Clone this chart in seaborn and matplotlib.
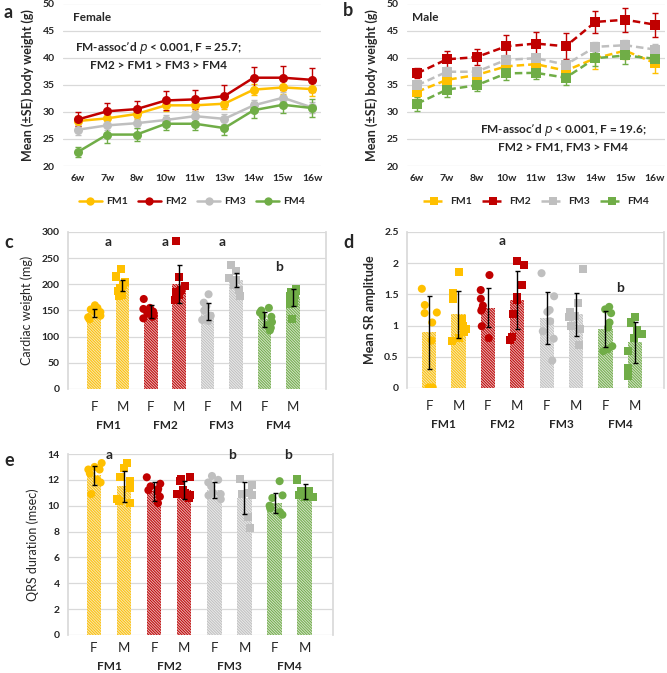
import numpy as np
import pandas as pd
import matplotlib
matplotlib.use("Agg")
import matplotlib.pyplot as plt
from matplotlib.lines import Line2D
import seaborn as sns

sns.set_theme(style="white")
plt.rcParams["font.family"] = ["Lato", "DejaVu Sans"]
plt.rcParams["hatch.linewidth"] = 0.7
np.random.seed(3)

# ---------------- data ----------------
weeks = ["6w", "7w", "8w", "10w", "11w", "13w", "14w", "15w", "16w"]
groups = ["FM1", "FM2", "FM3", "FM4"]

female_mean = {
    "FM1": [28.3, 28.8, 29.6, 31.2, 31.2, 31.5, 34.1, 34.5, 34.2],
    "FM2": [28.6, 30.1, 30.5, 32.1, 32.3, 32.9, 36.3, 36.3, 35.9],
    "FM3": [26.7, 27.5, 27.9, 28.5, 29.2, 28.7, 31.2, 32.6, 30.8],
    "FM4": [22.6, 25.8, 25.8, 27.8, 27.8, 27.0, 30.3, 31.3, 30.7],
}
female_se = {
    "FM1": [1.0, 1.0, 1.0, 1.0, 1.0, 1.0, 1.0, 1.2, 1.2],
    "FM2": [1.3, 1.5, 1.5, 1.7, 1.8, 2.0, 2.0, 2.2, 2.2],
    "FM3": [0.9, 0.9, 0.9, 0.9, 0.9, 0.9, 0.9, 1.0, 1.0],
    "FM4": [0.9, 1.6, 1.2, 1.2, 1.2, 1.3, 1.5, 1.6, 1.6],
}
male_mean = {
    "FM1": [33.7, 35.9, 36.8, 38.4, 38.8, 37.6, 39.9, 41.3, 39.0],
    "FM2": [37.1, 39.7, 40.1, 42.1, 42.6, 42.1, 46.6, 47.0, 46.1],
    "FM3": [34.9, 37.4, 37.4, 39.6, 39.9, 38.7, 42.0, 42.3, 41.5],
    "FM4": [31.5, 34.1, 34.9, 37.1, 37.2, 36.3, 39.9, 40.4, 39.8],
}
male_se = {
    "FM1": [1.0, 1.0, 1.0, 1.0, 1.0, 1.0, 2.0, 1.5, 1.8],
    "FM2": [0.9, 1.6, 1.5, 2.0, 2.1, 2.4, 2.1, 2.2, 2.2],
    "FM3": [0.8, 0.8, 0.8, 0.8, 0.8, 0.8, 0.9, 1.0, 1.0],
    "FM4": [1.3, 1.3, 1.1, 1.2, 1.2, 1.4, 1.5, 1.5, 1.3],
}

bar_cats = ["FM1 F", "FM1 M", "FM2 F", "FM2 M", "FM3 F", "FM3 M", "FM4 F", "FM4 M"]
sex_labels = ["F", "M", "F", "M", "F", "M", "F", "M"]

heart_mean = [145, 198, 148, 200, 148, 208, 133, 175]
heart_err = [7, 10, 12, 36, 17, 14, 14, 16]
heart_pts = [
    [160, 155, 152, 148, 147, 140, 137, 133],
    [229, 215, 205, 198, 192, 188, 184, 180, 178],
    [172, 155, 153, 150, 148, 145, 140, 138, 135],
    [283, 214, 196, 190, 185, 182, 180, 170],
    [181, 165, 158, 150, 140, 135, 132, 130],
    [237, 225, 212, 208, 198, 190, 178],
    [155, 150, 146, 140, 138, 128, 122, 117, 112],
    [191, 188, 185, 180, 178, 165, 162, 133],
]
heart_letters = {0.5: ("a", 281), 2.5: ("a", 281), 4.5: ("a", 281), 6.5: ("b", 233)}

sr_mean = [0.89, 1.18, 1.29, 1.41, 1.12, 1.18, 0.95, 0.73]
sr_err = [0.59, 0.38, 0.31, 0.46, 0.42, 0.35, 0.29, 0.33]
sr_pts = [
    [1.59, 1.33, 1.21, 1.20, 1.05, 0.76, 0.01, 0.01],
    [1.86, 1.53, 1.43, 1.10, 1.00, 0.95, 0.90, 0.80, 0.75],
    [1.81, 1.57, 1.43, 1.32, 1.27, 1.24, 0.99, 0.80],
    [2.03, 1.97, 1.65, 1.45, 1.41, 1.19, 0.82, 0.77],
    [1.84, 1.47, 1.25, 1.22, 1.07, 0.91, 0.79, 0.44],
    [1.91, 1.36, 1.21, 1.16, 1.14, 1.00, 0.94, 0.69],
    [1.30, 1.26, 1.20, 1.05, 0.97, 0.67, 0.62, 0.59],
    [1.14, 1.05, 0.93, 0.87, 0.80, 0.60, 0.32, 0.19],
]
sr_letters = {2.5: ("a", 2.36), 6.5: ("b", 1.6)}

qrs_mean = [12.35, 11.5, 11.1, 11.2, 11.2, 10.6, 10.2, 11.1]
qrs_err = [0.75, 1.2, 0.7, 0.7, 0.6, 1.25, 0.8, 0.6]
qrs_pts = [
    [13.3, 13.0, 12.8, 12.8, 12.5, 12.0, 11.8, 10.9],
    [13.3, 12.9, 12.2, 11.9, 11.4, 10.5, 10.4, 10.2],
    [12.2, 11.7, 11.5, 11.3, 11.2, 11.1, 10.7, 10.2],
    [12.2, 12.1, 11.9, 11.2, 11.0, 10.9, 10.8, 10.8, 10.6],
    [12.3, 12.0, 11.8, 11.5, 11.0, 10.9, 10.8, 10.5],
    [12.1, 11.6, 11.0, 10.9, 10.8, 9.1, 8.3],
    [11.9, 10.8, 10.6, 10.0, 9.8, 9.5, 9.3],
    [12.1, 12.0, 11.1, 11.1, 10.9, 10.8, 10.7, 10.7],
]
qrs_letters = {0.5: ("a", 13.9), 4.6: ("b", 13.9), 6.45: ("b", 13.9)}

colors = {"FM1": "#FFC000", "FM2": "#C00000", "FM3": "#BFBFBF", "FM4": "#70AD47"}
light = {"FM1": "#FFEBAD", "FM2": "#EDB3B3", "FM3": "#EBEBEB", "FM4": "#D3E6C6"}
grid_c = "#D9D9D9"

fig = plt.figure(figsize=(6.67, 6.73), dpi=100)
W, H = 667, 673


def add_ax(left, top, right, bottom):
    return fig.add_axes([left / W, 1 - bottom / H, (right - left) / W, (bottom - top) / H])


def style_ax(ax, yticks, ylabels=None):
    ax.set_yticks(yticks)
    if ylabels is not None:
        ax.set_yticklabels(ylabels)
    ax.grid(axis="y", color=grid_c, lw=0.9)
    ax.set_axisbelow(True)
    for s in ax.spines.values():
        s.set_visible(False)
    ax.tick_params(axis="both", length=0, labelsize=7.5, pad=6)
    for t in ax.get_yticklabels() + ax.get_xticklabels():
        t.set_fontweight("bold")


# ---------------- line panels ----------------
def line_panel(ax, means, ses, ls, marker, xlim, title, ann_xy, ann_lines):
    rows = []
    for g in groups:
        for w, v in zip(weeks, means[g]):
            rows.append({"week": w, "grp": g, "val": v})
    df = pd.DataFrame(rows)
    for g in groups:
        ax.errorbar(weeks, means[g], yerr=ses[g], fmt="none", ecolor=colors[g],
                    elinewidth=1, capsize=2, capthick=1, zorder=2)
    sns.lineplot(data=df, x="week", y="val", hue="grp", palette=colors, ax=ax,
                 lw=1.8, linestyle=ls, marker=marker, markersize=6.5,
                 markeredgewidth=0, legend=False, zorder=3, sort=False)
    ax.set_ylim(20, 50)
    ax.set_xlim(*xlim)
    style_ax(ax, np.arange(20, 51, 5))
    ax.set_xlabel("")
    ax.set_ylabel("Mean (±SE) body weight (g)", fontsize=9, fontweight="bold", labelpad=6)
    ax.text(0.04 if title == "Female" else 0.02, 0.915, title, transform=ax.transAxes,
            fontsize=8.5, fontweight="bold", ha="left", va="center")
    ax.text(ann_xy[0], ann_xy[1][0], ann_lines[0], transform=ax.transAxes,
            fontsize=8.5, fontweight="bold", ha="center", va="center")
    ax.text(ann_xy[0], ann_xy[1][1], ann_lines[1], transform=ax.transAxes,
            fontsize=8.5, fontweight="bold", ha="center", va="center")
    handles = [Line2D([], [], color=colors[g], lw=1.8, ls=ls, marker=marker,
                      markersize=6, markeredgewidth=0) for g in groups]
    leg = ax.legend(handles, groups, loc="center", bbox_to_anchor=(0.5, -0.22), ncol=4,
                    frameon=False, fontsize=7.5, handlelength=2.2, columnspacing=1.0,
                    handletextpad=0.4)
    for t in leg.get_texts():
        t.set_fontweight("bold")


ax_a = add_ax(63, 3.5, 321, 166)
line_panel(ax_a, female_mean, female_se, "-", "o", (-0.51, 8.3), "Female",
           (0.37, (0.725, 0.62)),
           ["FM-assoc’d $\\bf{\\it{p}}$ < 0.001, F = 25.7;", "FM2 > FM1 > FM3 > FM4"])

ax_b = add_ax(407, 3.5, 665, 166)
line_panel(ax_b, male_mean, male_se, (0, (3, 1.6)), "s", (-0.34, 8.34), "Male",
           (0.605, (0.22, 0.117)),
           ["FM-assoc’d $\\bf{\\it{p}}$ < 0.001, F = 19.6;", "FM2 > FM1, FM3 > FM4"])


# ---------------- bar panels ----------------
def bar_panel(ax, means, errs, pts, ylim, yticks, ylabels, ylabel, ylabel_bold, xlim,
              letters, grp_y=-0.235, grp_va="center", xpad=9):
    cat_grp = {c: c.split()[0] for c in bar_cats}
    mdf = pd.DataFrame({"cat": bar_cats, "val": means})
    sns.barplot(data=mdf, x="cat", y="val", hue="cat", order=bar_cats,
                palette={c: light[cat_grp[c]] for c in bar_cats}, width=0.48,
                legend=False, ax=ax, zorder=1)
    for patch, c in zip(ax.patches, bar_cats):
        patch.set_hatch("\\" * 12)
        patch.set_edgecolor(colors[cat_grp[c]])
        patch.set_linewidth(0)
    rows = []
    for c, vals in zip(bar_cats, pts):
        for v in vals:
            rows.append({"cat": c, "val": v, "sex": c.split()[1]})
    pdf = pd.DataFrame(rows)
    for sex, mk in (("F", "o"), ("M", "s")):
        sub = pdf[pdf["sex"] == sex]
        sns.stripplot(data=sub, x="cat", y="val", hue="cat", order=bar_cats,
                      palette={c: colors[cat_grp[c]] for c in bar_cats}, marker=mk,
                      size=5.8, jitter=0.28, linewidth=0, legend=False, ax=ax, zorder=3)
    ax.errorbar(bar_cats, means, yerr=errs, fmt="none", ecolor="black", elinewidth=1,
                capsize=1.8, capthick=1, zorder=4)
    ax.set_ylim(*ylim)
    ax.set_xlim(*xlim)
    style_ax(ax, yticks, ylabels)
    ax.spines["left"].set_visible(True)
    ax.spines["right"].set_visible(True)
    ax.spines["left"].set_color(grid_c)
    ax.spines["right"].set_color(grid_c)
    ax.set_xticks(range(len(bar_cats)))
    ax.set_xticklabels(sex_labels, fontsize=9.5, fontweight="normal")
    ax.tick_params(axis="x", pad=xpad)
    ax.set_xlabel("")
    ax.set_ylabel(ylabel, fontsize=9, fontweight="bold" if ylabel_bold else "normal",
                  labelpad=6)
    for i, g in enumerate(groups):
        ax.text(2 * i + 0.5, grp_y, g, transform=ax.get_xaxis_transform(),
                ha="center", va=grp_va, fontsize=8.5, fontweight="bold")
    for x, (lab, y) in letters.items():
        ax.text(x, y, lab, ha="center", va="center", fontsize=10, fontweight="bold")


ax_c = add_ax(68, 232, 326, 389)
bar_panel(ax_c, heart_mean, heart_err, heart_pts, (0, 300), np.arange(0, 301, 50), None,
          "Cardiac weight (mg)", False, (-0.92, 8.17), heart_letters)

ax_d = add_ax(407, 232, 664, 388)
bar_panel(ax_d, sr_mean, sr_err, sr_pts, (0, 2.5), np.arange(0, 2.51, 0.5),
          ["0", "0.5", "1", "1.5", "2", "2.5"], "Mean SR amplitude", True,
          (-0.75, 7.99), sr_letters)

ax_e = add_ax(68, 454, 333, 635)
bar_panel(ax_e, qrs_mean, qrs_err, qrs_pts, (0, 14), np.arange(0, 15, 2), None,
          "QRS duration (msec)", False, (-0.86, 7.94), qrs_letters,
          grp_y=-0.204, grp_va="bottom", xpad=5)

# panel letters
for lab, (x, y) in {"a": (4, 12), "b": (343, 10), "c": (4, 242), "d": (343, 242),
                    "e": (4, 460)}.items():
    fig.text(x / W, 1 - y / H, lab, fontsize=13, fontweight="bold", ha="left", va="center")

fig.savefig("out.png", dpi=100)
